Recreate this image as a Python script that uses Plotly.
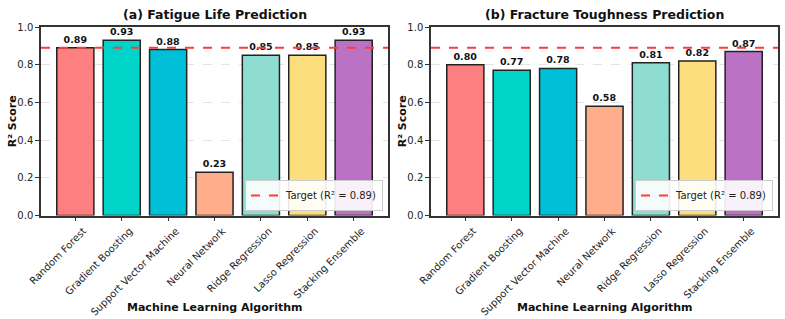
import plotly.graph_objects as go

algorithms = ["Random Forest", "Gradient Boosting", "Support Vector Machine",
              "Neural Network", "Ridge Regression", "Lasso Regression", "Stacking Ensemble"]
fatigue_r2 = [0.89, 0.93, 0.88, 0.23, 0.85, 0.85, 0.93]
fracture_r2 = [0.80, 0.77, 0.78, 0.58, 0.81, 0.82, 0.87]
bar_colors = ["#FE7F80", "#00D4C8", "#00C0D8", "#FFAD8A", "#8FDDD1", "#FDDE7E", "#BC72C4"]
target_r2 = 0.89
titles = ["(a) Fatigue Life Prediction", "(b) Fracture Toughness Prediction"]

W, H = 785, 319
font_fam = "DejaVu Sans"

fig = go.Figure()

x_domains = [[41 / W, 388 / W], [431 / W, 778 / W]]
y_domain = [1 - 215.5 / H, 1 - 27 / H]

for i, vals in enumerate([fatigue_r2, fracture_r2]):
    xa = "x" if i == 0 else "x2"
    ya = "y" if i == 0 else "y2"
    fig.add_trace(go.Bar(
        x=list(range(len(algorithms))), y=vals,
        marker=dict(color=bar_colors, line=dict(color="#222222", width=1.5)),
        width=0.8,
        text=[f"{v:.2f}" for v in vals], textposition="outside",
        textfont=dict(family=font_fam, size=9.5, color="#111111", weight="bold"),
        cliponaxis=False, showlegend=False,
        xaxis=xa, yaxis=ya,
    ))
    fig.add_trace(go.Scatter(
        x=[None], y=[None], mode="lines",
        line=dict(color="#FF3B3B", width=2, dash="dash"),
        name=f"Target (R² = {target_r2})",
        xaxis=xa, yaxis=ya,
        legend="legend" if i == 0 else "legend2",
    ))
    fig.add_shape(type="line", xref=f"{xa} domain", yref=ya,
                  x0=0, x1=1, y0=target_r2, y1=target_r2,
                  line=dict(color="#FF3B3B", width=2, dash="dash"), layer="above")
    cx = (x_domains[i][0] + x_domains[i][1]) / 2
    fig.add_annotation(text=f"<b>{titles[i]}</b>", xref="paper", yref="paper",
                       x=cx, y=1 - 14 / H, showarrow=False,
                       font=dict(family=font_fam, size=12.5, color="#111111"),
                       xanchor="center", yanchor="middle")
    fig.add_annotation(text="<b>Machine Learning Algorithm</b>", xref="paper", yref="paper",
                       x=cx, y=1 - 307 / H, showarrow=False,
                       font=dict(family=font_fam, size=11, color="#111111"),
                       xanchor="center", yanchor="middle")
    yx = (12 if i == 0 else 402) / W
    fig.add_annotation(text="<b>R² Score</b>", xref="paper", yref="paper",
                       x=yx, y=(y_domain[0] + y_domain[1]) / 2, showarrow=False, textangle=-90,
                       font=dict(family=font_fam, size=11, color="#111111"),
                       xanchor="center", yanchor="middle")

axis_common_x = dict(
    tickmode="array", tickvals=list(range(len(algorithms))), ticktext=algorithms,
    tickangle=-45, range=[-0.74, 6.74], showline=True, mirror=True, automargin=False,
    linecolor="#333333", linewidth=1.5, ticks="outside", ticklen=4, tickcolor="#333333",
    tickfont=dict(family=font_fam, size=10, color="#222222"), showgrid=False, zeroline=False,
    ticklabelshift=8,
)
axis_common_y = dict(
    range=[0, 1.0], tickvals=[0, 0.2, 0.4, 0.6, 0.8, 1.0],
    ticktext=["0.0", "0.2", "0.4", "0.6", "0.8", "1.0"], automargin=False,
    showline=True, mirror=True, linecolor="#333333", linewidth=1.5,
    ticks="outside", ticklen=4, tickcolor="#333333",
    tickfont=dict(family=font_fam, size=10, color="#222222"),
    showgrid=True, gridcolor="#E4E4E4", griddash="dash", gridwidth=1, zeroline=False,
    domain=y_domain,
)

legend_common = dict(
    bgcolor="rgba(255,255,255,0.9)", bordercolor="#CCCCCC", borderwidth=1,
    font=dict(family=font_fam, size=10, color="#222222"),
    xanchor="right", yanchor="bottom", itemwidth=30,
)

fig.update_layout(
    width=W, height=H, margin=dict(l=0, r=0, t=0, b=0, autoexpand=False),
    paper_bgcolor="white", plot_bgcolor="white",
    xaxis=dict(domain=x_domains[0], anchor="y", **axis_common_x),
    yaxis=dict(anchor="x", **axis_common_y),
    xaxis2=dict(domain=x_domains[1], anchor="y2", **axis_common_x),
    yaxis2=dict(anchor="x2", **axis_common_y),
    legend=dict(x=383 / W, y=1 - 211 / H, **legend_common),
    legend2=dict(x=773 / W, y=1 - 211 / H, **legend_common),
    bargap=0.2,
)

fig.write_html("out.html")
